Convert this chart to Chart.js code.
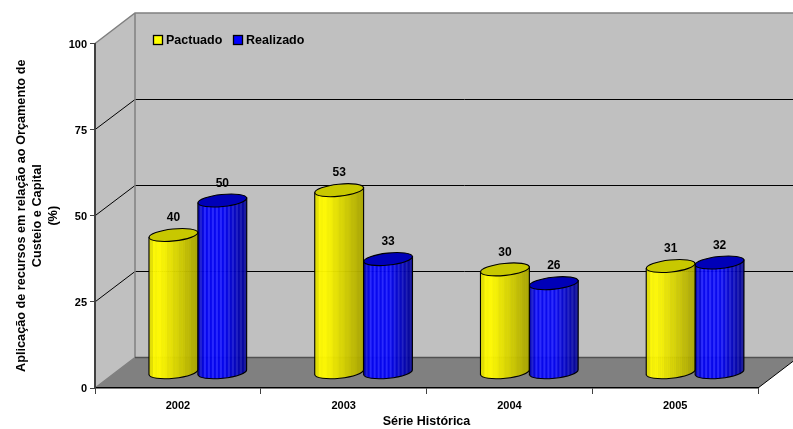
<!DOCTYPE html>
<html>
<head>
<meta charset="utf-8">
<style>
  html, body { margin: 0; padding: 0; background: #fff; }
  #wrap { width: 793px; height: 429px; }
</style>
</head>
<body>
<div id="wrap"><canvas id="chart"></canvas></div>
<script src="https://cdn.jsdelivr.net/npm/chart.js@4/dist/chart.umd.js"></script>
<script>
const categories = ['2002', '2003', '2004', '2005'];
const pactuado = [40, 53, 30, 31];
const realizado = [50, 33, 26, 32];
const yTitle = ['Aplicação de recursos em relação ao Orçamento de', 'Custeio e Capital', '(%)'];
const xTitle = 'Série Histórica';

const FONT = '"Liberation Sans", Arial, sans-serif';
const DEPTH_X = 40;
const DEPTH_Y = 30.5;

function snap(v) {
    return Math.round(v - 0.5) + 0.5;
}

// side walls, floor and the gridlines that run round them
function drawWalls(chart) {
    const ctx = chart.ctx;
    const a = chart.chartArea;
    const y = chart.scales.y;
    const bx = a.left + DEPTH_X;
    const top = a.top - DEPTH_Y;
    const floor = a.bottom - DEPTH_Y;
    const right = a.right + DEPTH_X;

    ctx.save();
    ctx.fillStyle = '#c0c0c0';
    ctx.fillRect(bx, top, right - bx, floor - top);
    ctx.beginPath();
    ctx.moveTo(a.left, a.top);
    ctx.lineTo(bx, top);
    ctx.lineTo(bx, floor);
    ctx.lineTo(a.left, a.bottom);
    ctx.closePath();
    ctx.fill();

    ctx.fillStyle = '#808080';
    ctx.beginPath();
    ctx.moveTo(a.left, a.bottom);
    ctx.lineTo(bx, floor);
    ctx.lineTo(right, floor);
    ctx.lineTo(a.right, a.bottom);
    ctx.closePath();
    ctx.fill();

    ctx.lineWidth = 1;
    y.ticks.forEach(t => {
        const py = y.getPixelForValue(t.value);
        if (t.value === 0 || t.value === 100) return;
        const back = snap(py - DEPTH_Y);
        ctx.strokeStyle = '#000';
        ctx.beginPath();
        ctx.moveTo(a.left, py);
        ctx.lineTo(bx, back);
        ctx.lineTo(right, back);
        ctx.stroke();
    });

    // grey outline of the walls
    ctx.strokeStyle = '#808080';
    ctx.lineWidth = 1.5;
    ctx.beginPath();
    ctx.moveTo(a.left, a.top);
    ctx.lineTo(bx, top);
    ctx.lineTo(right, top);
    ctx.moveTo(bx, top);
    ctx.lineTo(bx, floor);
    ctx.lineTo(a.left, a.bottom);
    ctx.stroke();

    ctx.strokeStyle = '#505050';
    ctx.beginPath();
    ctx.moveTo(bx, floor);
    ctx.lineTo(right, floor);
    ctx.stroke();

    ctx.strokeStyle = '#000';
    ctx.lineWidth = 1;
    ctx.beginPath();
    ctx.moveTo(a.right, a.bottom);
    ctx.lineTo(right, floor);
    ctx.stroke();
    ctx.restore();
}

function drawCylinder(ctx, bar, shades, topColor) {
    const rx = bar.width / 2;
    const ry = 6;
    const rot = -6 * Math.PI / 180;
    const cx = bar.x + DEPTH_X / 2;
    const yt = bar.y - DEPTH_Y / 2;
    const yb = bar.base - DEPTH_Y / 2;
    const dy = Math.sin(rot) * rx;

    ctx.save();
    ctx.beginPath();
    ctx.moveTo(cx - rx, yt - dy);
    ctx.lineTo(cx - rx, yb - dy);
    ctx.ellipse(cx, yb, rx, ry, rot, Math.PI, 0, true);
    ctx.lineTo(cx + rx, yt + dy);
    ctx.closePath();

    ctx.save();
    ctx.clip();
    ctx.globalAlpha = 0.95;
    const step = 2;
    for (let i = 0, x = cx - rx; x < cx + rx; i++, x += step) {
        ctx.fillStyle = shades((x - cx + rx) / (2 * rx), i);
        ctx.fillRect(x, yt - 10, step + 0.5, yb - yt + 30);
    }
    ctx.restore();

    ctx.strokeStyle = '#000';
    ctx.lineWidth = 1.1;
    ctx.stroke();

    ctx.beginPath();
    ctx.ellipse(cx, yt, rx, ry, rot, 0, Math.PI * 2);
    ctx.fillStyle = topColor;
    ctx.fill();
    ctx.stroke();
    ctx.restore();
}

function yellowShade(f, i) {
    let k = 1;
    if (f < 0.08) k = 0.9;
    else if (f > 0.22) k = 1 - (f - 0.22) * 0.45;
    if (i % 3 === 0) k *= 0.98;
    const v = Math.round(255 * k);
    return `rgb(${v},${Math.round(v * 0.98)},0)`;
}

function blueShade(f, i) {
    let k = 1;
    if (f < 0.12) k = 0.75 + f * 2;
    else if (f > 0.5) k = 1 - (f - 0.5) * 0.85;
    const stripe = i % 2 === 1;
    const v = Math.round((stripe ? 255 : 240) * k);
    const w = stripe ? Math.round(36 * k) : 0;
    return `rgb(${w},${w},${v})`;
}

const styles = [
    { shade: yellowShade, top: '#c8c800' },
    { shade: blueShade, top: '#0000b8' }
];

const cylinders = {
    id: 'cylinders',
    beforeDraw(chart) {
        drawWalls(chart);
    },
    beforeDatasetDraw(chart, args) {
        const ctx = chart.ctx;
        const st = styles[args.index];
        args.meta.data.forEach(bar => {
            drawCylinder(ctx, bar, st.shade, st.top);
        });
        return false;
    },
    afterDatasetsDraw(chart) {
        const ctx = chart.ctx;
        ctx.save();
        ctx.fillStyle = '#000';
        ctx.font = 'bold 12px ' + FONT;
        ctx.textAlign = 'center';
        ctx.textBaseline = 'middle';
        chart.data.datasets.forEach((ds, d) => {
            chart.getDatasetMeta(d).data.forEach((bar, i) => {
                ctx.fillText(ds.data[i], bar.x + DEPTH_X / 2, bar.y - DEPTH_Y / 2 - 17);
            });
        });

        // legend sits on the back wall
        const legendX = [153, 233];
        ctx.font = 'bold 12.5px ' + FONT;
        ctx.textAlign = 'left';
        chart.data.datasets.forEach((ds, d) => {
            ctx.fillStyle = ds.backgroundColor;
            ctx.strokeStyle = '#000';
            ctx.lineWidth = 1.3;
            ctx.fillRect(legendX[d] + 0.5, 35.5, 9, 9);
            ctx.strokeRect(legendX[d] + 0.5, 35.5, 9, 9);
            ctx.fillStyle = '#000';
            ctx.fillText(ds.label, legendX[d] + 13, 41);
        });
        ctx.restore();
    }
};

new Chart(document.getElementById('chart'), {
    type: 'bar',
    data: {
        labels: categories,
        datasets: [
            { label: 'Pactuado', data: pactuado, backgroundColor: '#ffff00' },
            { label: 'Realizado', data: realizado, backgroundColor: '#0000ff' }
        ]
    },
    plugins: [cylinders],
    options: {
        responsive: true,
        maintainAspectRatio: false,
        animation: false,
        layout: { padding: { left: 13, right: 35, top: 43.5, bottom: 0 } },
        plugins: { legend: { display: false }, tooltip: { enabled: false } },
        datasets: { bar: { categoryPercentage: 0.59, barPercentage: 1 } },
        scales: {
            x: {
                afterFit(s) { s.height = 41; },
                grid: { offset: true, drawOnChartArea: false, color: '#404040', tickLength: 6 },
                border: { color: '#000', width: 1.5 },
                ticks: { color: '#000', font: { family: FONT, size: 11, weight: 'bold' }, padding: 5, maxRotation: 0 },
                title: { display: true, text: xTitle, color: '#000', font: { family: FONT, size: 12.5, weight: 'bold' }, padding: 0 }
            },
            y: {
                min: 0,
                max: 100,
                afterFit(s) { s.width = 82; },
                grid: { drawOnChartArea: false, color: '#404040', tickLength: 5 },
                border: { color: '#404040', width: 2 },
                ticks: { stepSize: 25, color: '#000', font: { family: FONT, size: 11, weight: 'bold' }, padding: 3, labelOffset: 1 },
                title: { display: true, text: yTitle, color: '#000', font: { family: FONT, size: 12.7, weight: 'bold', lineHeight: 1.28 }, padding: 0 }
            }
        }
    }
});
</script>
</body>
</html>
